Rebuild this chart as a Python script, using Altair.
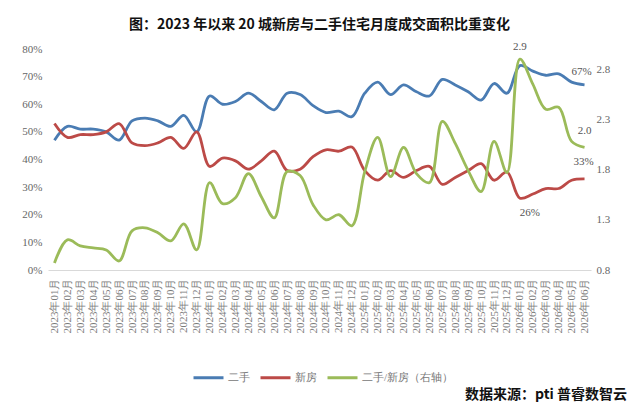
import altair as alt
import pandas as pd

months = [f"{y}年{m:02d}月" for y in (2023, 2024, 2025, 2026) for m in range(1, 13)][:42]

second_hand = [47, 52, 51, 51, 50, 47, 54, 55, 54, 52, 56, 50,
               63, 60, 61, 64, 61, 58, 64, 63.5, 59.5, 57, 57.5, 55.5,
               64, 68, 63.5, 67, 64.5, 63, 69, 67, 64.5, 61.5, 67.5, 64,
               74, 72, 70.5, 71, 68, 67]
new_home = [53, 48, 49, 49, 50, 53, 46, 45, 46, 48, 44, 50,
            37.5, 40.5, 39.5, 36.5, 39.5, 43, 36, 36.5, 41, 43.5, 43, 44.5,
            36, 32.5, 36, 33.5, 36, 37.5, 31, 33.5, 36, 38.5, 32.5, 35.5,
            26, 27.5, 29.5, 29.5, 32.5, 33]
ratio = [0.87, 1.10, 1.04, 1.02, 1.00, 0.89, 1.19, 1.22, 1.17, 1.09, 1.26, 1.00,
         1.67, 1.46, 1.52, 1.76, 1.53, 1.32, 1.78, 1.74, 1.45, 1.30, 1.35, 1.24,
         1.78, 2.12, 1.73, 2.02, 1.76, 1.67, 2.28, 2.06, 1.79, 1.58, 2.08, 1.77,
         2.90, 2.65, 2.40, 2.42, 2.08, 2.02]

series_names = ["二手", "新房", "二手/新房（右轴）"]
colors = ["#4A7CB3", "#BC4A47", "#9BBB59"]

title_text = "图：2023 年以来 20 城新房与二手住宅月度成交面积比重变化"
source_text = "数据来源：pti 普睿数智云"

left_ticks = [0, 10, 20, 30, 40, 50, 60, 70, 80]
right_ticks = [0.8, 1.3, 1.8, 2.3, 2.8]

# annotations: (month index, value, text, dx, dy)
ann_left = [(41, 67, "67%", -3, -13), (41, 33, "33%", -1, -17), (36, 26, "26%", 10, 15)]
ann_right = [(36, 2.90, "2.9", 0, -12), (41, 2.02, "2.0", 0, -16)]

df_left = pd.DataFrame({
    "month": months * 2,
    "value": second_hand + new_home,
    "series": [series_names[0]] * 42 + [series_names[1]] * 42,
})
df_right = pd.DataFrame({"month": months, "value": ratio, "series": series_names[2]})

serif = "Liberation Serif"
cjk = "Noto Sans CJK SC"
gray = "#666666"

xscale = alt.Scale(domain=months, type="point", padding=0.5)
xaxis = alt.Axis(title=None, labelAngle=270, labelFont=serif, labelFontSize=11,
                 labelColor="#7a7a7a", ticks=False, domainColor="#d9d9d9",
                 labelPadding=8, grid=False)
xenc = alt.X("month:O", scale=xscale, axis=xaxis)

color = alt.Color("series:N",
                  scale=alt.Scale(domain=series_names, range=colors),
                  legend=alt.Legend(title=None, orient="none", legendX=144, legendY=312,
                                    direction="horizontal", symbolType="stroke",
                                    symbolSize=900, symbolStrokeWidth=3,
                                    labelFont=serif, labelFontSize=11, labelColor="#777777",
                                    labelOffset=3, columnPadding=4))

yleft = alt.Scale(domain=[0, 80], nice=False, zero=False)
yright = alt.Scale(domain=[0.8, 3.0], nice=False, zero=False)

lines_left = alt.Chart(df_left).mark_line(interpolate="catmull-rom", strokeWidth=2.8).encode(
    x=xenc,
    y=alt.Y("value:Q", scale=yleft,
            axis=alt.Axis(title=None, orient="left", values=left_ticks,
                          labelExpr="datum.value + '%'",
                          labelFont=serif, labelFontSize=11, labelColor=gray,
                          ticks=False, domain=False, grid=False, labelPadding=6)),
    color=color,
)

line_right = alt.Chart(df_right).mark_line(interpolate="catmull-rom", strokeWidth=2.8).encode(
    x=xenc,
    y=alt.Y("value:Q", scale=yright,
            axis=alt.Axis(title=None, orient="right", values=right_ticks, format=".1f",
                          labelFont=serif, labelFontSize=11, labelColor=gray,
                          ticks=False, domain=False, grid=False, labelPadding=5)),
    color=color,
)

layers = [lines_left, line_right]
for idx, val, txt, dx, dy in ann_left:
    d = pd.DataFrame({"month": [months[idx]], "value": [val], "t": [txt]})
    layers.append(
        alt.Chart(d).mark_text(font=serif, fontSize=11, color="#555555", dx=dx, dy=dy).encode(
            x=xenc, y=alt.Y("value:Q", scale=yleft, axis=None), text="t:N"))
for idx, val, txt, dx, dy in ann_right:
    d = pd.DataFrame({"month": [months[idx]], "value": [val], "t": [txt]})
    layers.append(
        alt.Chart(d).mark_text(font=serif, fontSize=11, color="#555555", dx=dx, dy=dy).encode(
            x=xenc, y=alt.Y("value:Q", scale=yright, axis=None), text="t:N"))

src = alt.Chart(pd.DataFrame({"t": [source_text]})).mark_text(
    font=cjk, fontSize=14, fontWeight="bold", color="#111111", align="right",
    baseline="middle").encode(x=alt.value(579), y=alt.value(346), text="t:N")
layers.append(src)

chart = alt.layer(*layers).resolve_scale(y="independent").properties(
    width=543, height=221,
    padding={"left": 40, "top": 41, "right": 41, "bottom": 133},
    autosize=alt.AutoSizeParams(type="none"),
    background="white",
    title=alt.TitleParams(title_text, font=cjk, fontSize=14, fontWeight="bold",
                          color="#111111", anchor="middle", offset=9),
).configure_view(stroke=None)

chart.save("out.html", embed_options={"renderer": "svg", "actions": False})
